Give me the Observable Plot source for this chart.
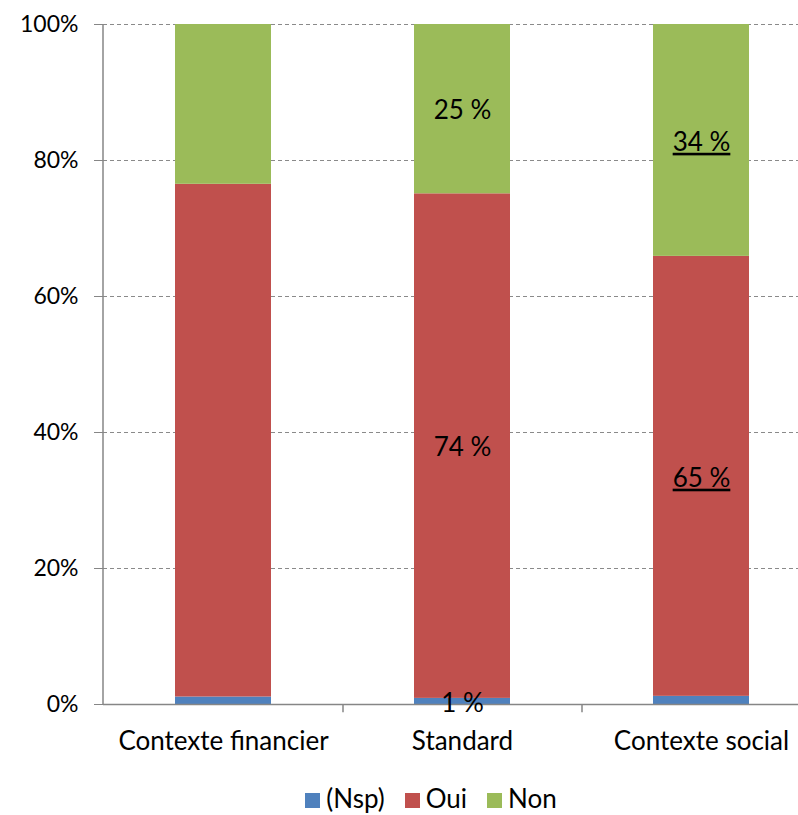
<!DOCTYPE html>
<html><head><meta charset="utf-8">
<script src="https://cdn.jsdelivr.net/npm/d3@7"></script>
<script src="https://cdn.jsdelivr.net/npm/@observablehq/plot@0.6"></script>
<style>
html,body{margin:0;padding:0;background:#fff;overflow:hidden;width:798px;}
#chart{font-family:Lato,"Open Sans",sans-serif;width:820px;height:768px;}
#chart svg{max-width:none !important;}
.ul text{text-decoration:underline;text-decoration-thickness:3px;text-underline-offset:4px;}
.legend{display:flex;justify-content:center;gap:20px;font-family:Lato,sans-serif;font-size:26px;color:#000;margin-left:64px;margin-top:14px;width:734px;}
.legend span.sw{display:inline-block;width:15px;height:15px;margin-right:6px;vertical-align:0px;}
</style></head>
<body>
<div id="chart"></div>
<div class="legend" id="legend"></div>
<script>
const categories = ["Contexte financier", "Standard", "Contexte social"];
const seriesNames = ["(Nsp)", "Oui", "Non"];
const colors = ["#4F81BD", "#C0504D", "#9BBB59"];
const nsp = [1.1, 0.9, 1.2];
const oui = [75.4, 74.2, 64.7];
const non = [23.5, 24.9, 34.1];
const nspLabels = [null, "1 %", null];
const ouiLabels = [null, "74 %", "65 %"];
const nonLabels = [null, "25 %", "34 %"];
const underlined = [false, false, true];
const yTicks = [0, 20, 40, 60, 80, 100];

const values = [nsp, oui, non];
const labelSets = [nspLabels, ouiLabels, nonLabels];
const table = [];
const labels = [];
categories.forEach((c, i) => {
  let base = 0;
  seriesNames.forEach((s, j) => {
    const v = values[j][i];
    table.push({cat: c, series: s, value: v});
    const t = labelSets[j][i];
    if (t) labels.push({cat: c, y: base + v / 2, text: t, ul: underlined[i]});
    base += v;
  });
});

const yAxisLine = (index, scales, values, dims) => {
  const l = document.createElementNS("http://www.w3.org/2000/svg", "line");
  const x0 = dims.marginLeft;
  l.setAttribute("x1", x0); l.setAttribute("x2", x0);
  l.setAttribute("y1", scales.y(100)); l.setAttribute("y2", scales.y(0));
  l.setAttribute("stroke", "#868686"); l.setAttribute("stroke-width", 1.5);
  return l;
};

const chart = Plot.plot({
  width: 820,
  height: 768,
  marginLeft: 103,
  marginRight: 0,
  marginTop: 24,
  marginBottom: 64,
  style: {fontFamily: "Lato, 'Open Sans', sans-serif", fontSize: "22px", color: "#000", overflow: "visible", maxWidth: "none"},
  x: {domain: categories, paddingInner: 0.6, paddingOuter: 0.3, label: null},
  y: {domain: [0, 100], label: null},
  color: {domain: seriesNames, range: colors},
  marks: [
    Plot.gridY(yTicks, {stroke: "#8a8a8a", strokeOpacity: 1, strokeDasharray: "4,3", strokeWidth: 1}),
    Plot.barY(table, {x: "cat", y: "value", fill: "series", order: seriesNames}),
    Plot.ruleY([0], {stroke: "#868686", strokeWidth: 1.5}),
    yAxisLine,
    Plot.ruleX(categories.slice(0, 2), {x: d => d, y1: 0, y2: -1.2, dx: 119.5, stroke: "#868686", strokeWidth: 1.5}),
    Plot.axisY(yTicks, {tickSize: 9, tickPadding: 16, tickFormat: d => d + "%", stroke: "#868686", fontSize: 23, label: null}),
    Plot.axisX({tickSize: 0, tickPadding: 27, fontSize: 26, label: null}),
    Plot.text(labels.filter(d => !d.ul), {x: "cat", y: "y", text: "text", fontSize: 26, fill: "#000", dy: 2}),
    Plot.text(labels.filter(d => d.ul), {x: "cat", y: "y", text: "text", fontSize: 26, fill: "#000", dy: 2, className: "ul"})
  ]
});
document.getElementById("chart").appendChild(chart);

const lg = document.getElementById("legend");
seriesNames.forEach((s, i) => {
  const item = document.createElement("div");
  item.innerHTML = `<span class="sw" style="background:${colors[i]}"></span>${s}`;
  lg.appendChild(item);
});
</script>
</body></html>
